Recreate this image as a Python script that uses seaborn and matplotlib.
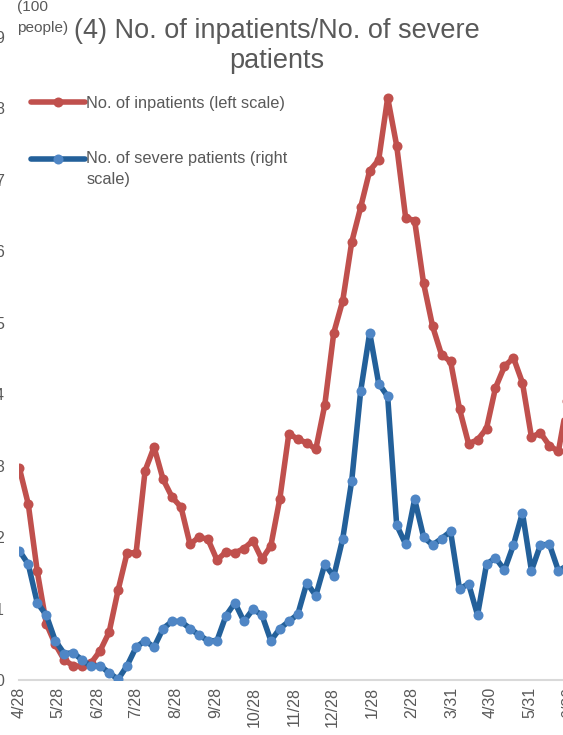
import matplotlib
matplotlib.use('Agg')
import matplotlib.pyplot as plt
import seaborn as sns
import pandas as pd

# Dados semanais (a partir de 28/04)
inicio = '2021-04-28'
internados = [2.97, 2.46, 1.52, 0.79, 0.50, 0.28, 0.20, 0.19, 0.24, 0.41,
              0.67, 1.26, 1.78, 1.78, 2.93, 3.26, 2.81, 2.56, 2.42, 1.90,
              2.00, 1.97, 1.68, 1.79, 1.78, 1.84, 1.95, 1.69, 1.88, 2.54,
              3.45, 3.37, 3.32, 3.23, 3.85, 4.86, 5.31, 6.13, 6.62, 7.13,
              7.28, 8.15, 7.48, 6.47, 6.43, 5.55, 4.95, 4.55, 4.46, 3.79,
              3.31, 3.36, 3.52, 4.09, 4.39, 4.51, 4.16, 3.40, 3.46, 3.28,
              3.20, 3.90]
graves = [18.1, 16.2, 10.8, 9.1, 5.5, 3.7, 3.8, 2.8, 1.9, 2.0,
          1.0, 0.1, 2.0, 4.6, 5.5, 4.6, 7.2, 8.2, 8.2, 7.2,
          6.3, 5.5, 5.5, 9.0, 10.8, 8.2, 9.9, 9.1, 5.5, 7.2,
          8.2, 9.2, 13.6, 11.8, 16.2, 14.5, 19.8, 27.9, 40.5, 48.6,
          41.5, 39.7, 21.7, 19.0, 25.3, 20.0, 18.9, 19.8, 20.8, 12.7,
          13.5, 9.1, 16.2, 17.1, 15.4, 18.9, 23.4, 15.3, 18.9, 19.0,
          15.3, 16.0]

tick_datas = ['2021-04-28', '2021-05-28', '2021-06-28', '2021-07-28', '2021-08-28',
              '2021-09-28', '2021-10-28', '2021-11-28', '2021-12-28', '2022-01-28',
              '2022-02-28', '2022-03-31', '2022-04-30', '2022-05-31', '2022-06-30']
tick_labels = ['4/28', '5/28', '6/28', '7/28', '8/28', '9/28', '10/28', '11/28',
               '12/28', '1/28', '2/28', '3/31', '4/30', '5/31', '6/30']

datas = pd.date_range(inicio, periods=len(internados), freq='7D')
df = pd.DataFrame({'data': datas, 'internados': internados, 'graves': graves})

sns.set_style('white')
plt.rcParams['font.family'] = ['Liberation Sans', 'DejaVu Sans']
cinza = '#595959'

fig = plt.figure(figsize=(5.63, 7.35), dpi=100)
ax = fig.add_axes([19.3 / 563, 55 / 735, (620 - 19.3) / 563, 643 / 735])
ax2 = ax.twinx()

sns.lineplot(data=df, x='data', y='internados', ax=ax, color='#C0504D',
             linewidth=4.0, marker='o', markersize=7.2, markeredgewidth=0,
             label='No. of inpatients (left scale)', legend=False)
# linha vazia no início para alinhar o marcador com a primeira linha do texto
sns.lineplot(data=df, x='data', y='graves', ax=ax2, color='#23609A',
             linewidth=4.0, marker='o', markersize=7.2, markeredgewidth=0,
             markerfacecolor='#4F86C5',
             label='\nNo. of severe patients (right\nscale)', legend=False)

ax.set_ylim(0, 9)
ax2.set_ylim(0, 90)
ax.set_xlim(pd.Timestamp(inicio), pd.Timestamp(inicio) + pd.Timedelta(days=468))

ax.set_yticks(range(0, 10))
ax.set_xticks(pd.to_datetime(tick_datas))
ax.set_xticklabels(tick_labels, rotation=90)
ax.tick_params(axis='y', length=0, pad=11, labelsize=11.5, labelcolor=cinza)
ax.tick_params(axis='x', length=0, pad=5, labelsize=11.5, labelcolor=cinza)
ax2.set_yticks([])
ax.set_xlabel('')
ax.set_ylabel('')
ax2.set_ylabel('')

for a in (ax, ax2):
    for s in ['top', 'right', 'left', 'bottom']:
        a.spines[s].set_visible(False)
ax.spines['bottom'].set_visible(True)
ax.spines['bottom'].set_color('#D9D9D9')
ax.spines['bottom'].set_linewidth(1.5)

# Legenda combinada
h1, l1 = ax.get_legend_handles_labels()
h2, l2 = ax2.get_legend_handles_labels()
leg = fig.legend(h1 + h2, l1 + l2, loc='upper left', bbox_to_anchor=(16 / 563, 1 - 81 / 735),
                 frameon=False, fontsize=11.75, labelcolor=cinza, handlelength=3.3,
                 handletextpad=0.1, labelspacing=1.25)
for t in leg.get_texts():
    t.set_linespacing(1.45)

fig.text(277 / 563, 1 - 46 / 735, '(4) No. of inpatients/No. of severe\npatients',
         ha='center', va='center', fontsize=19.5, color=cinza, linespacing=1.15)
fig.text(16.7 / 563, 1 - 17.5 / 735, '(100\npeople)', ha='left', va='center',
         fontsize=11.1, color=cinza, linespacing=1.6)

fig.savefig('out.png', dpi=100)
